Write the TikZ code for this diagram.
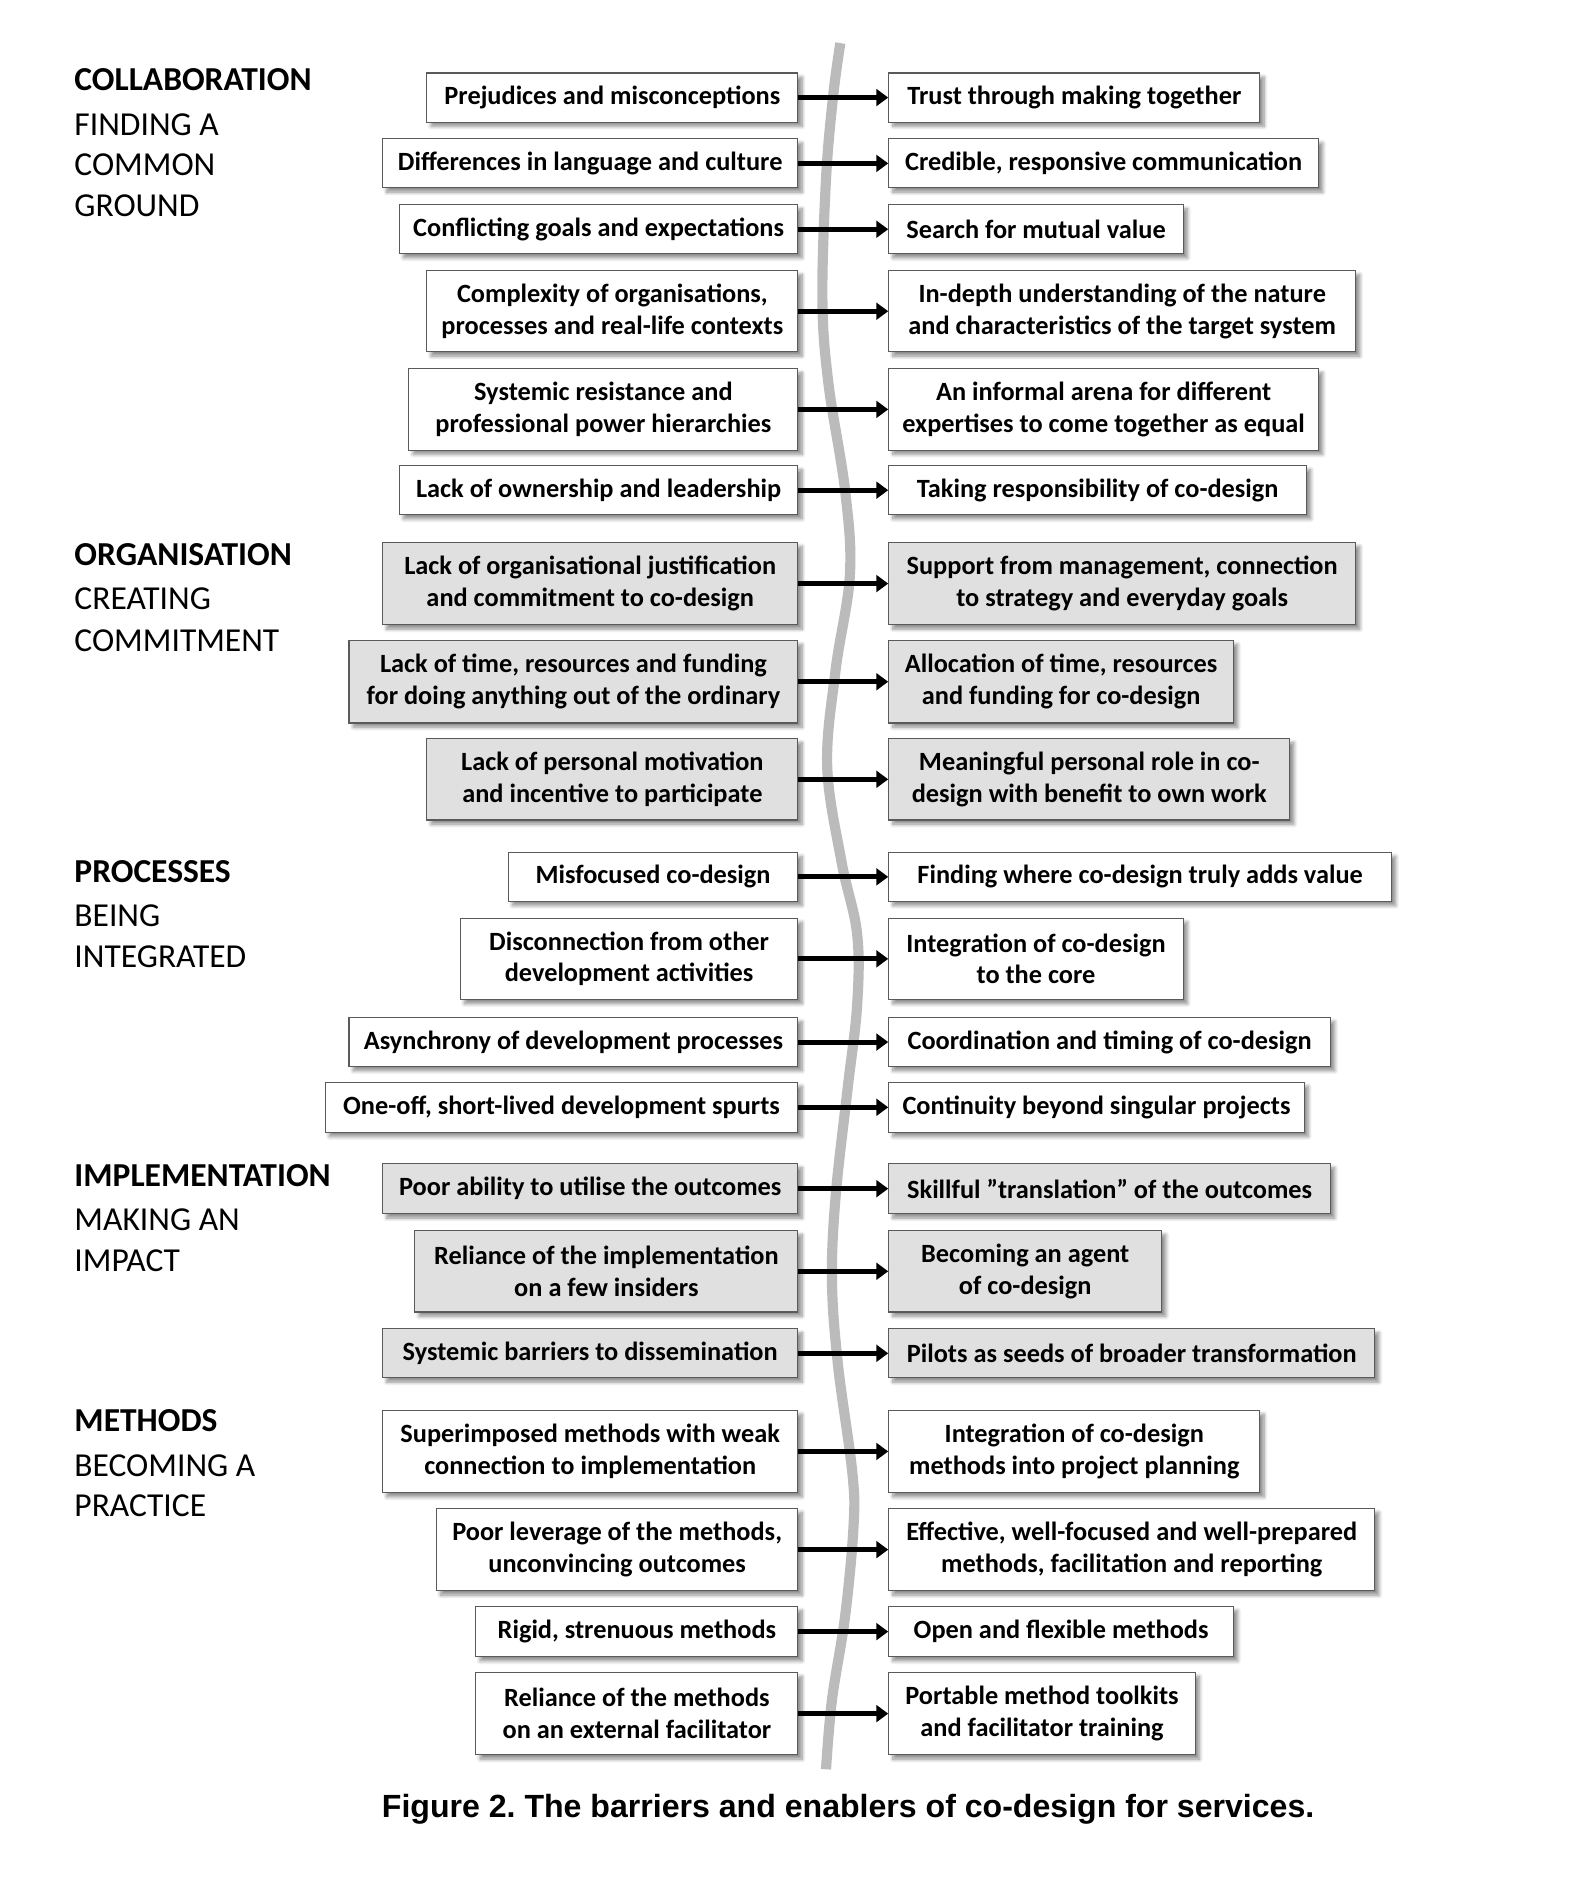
\documentclass[tikz,border=0pt]{standalone}
\usepackage{fontspec}
\setmainfont{Carlito}
\newfontfamily\capfont{Liberation Sans}
\usetikzlibrary{arrows.meta,shadows.blur}
\definecolor{boxgrey}{HTML}{E0E0E0}
\definecolor{linegrey}{HTML}{BBBBBB}
\definecolor{edgegrey}{HTML}{5A5A5A}
\frenchspacing
\tikzset{
  box/.style={draw=edgegrey, line width=0.9pt, align=center, inner xsep=5pt, inner ysep=0pt,
    font=\fontsize{22}{26.5}\selectfont\bfseries, text=black,
    blur shadow={shadow xshift=3.5pt, shadow yshift=-3.5pt, shadow blur steps=8, shadow blur extra rounding=0pt, shadow blur radius=3pt, shadow opacity=45}},
  lbox/.style={box, anchor=east},
  rbox/.style={box, anchor=west},
  wfill/.style={fill=white},
  gfill/.style={fill=boxgrey},
  arr/.style={line width=4.2pt, -{Triangle[length=10pt,width=14pt]}},
  head/.style={anchor=base west, inner sep=0pt, font=\fontsize{28}{34}\selectfont\bfseries},
  sub/.style={anchor=base west, inner sep=0pt, font=\fontsize{28}{34}\selectfont},
  spine/.style={draw=linegrey, line width=8.5pt},
}
% \barrow{id}{y}{h}{fill}{lw}{ltext}{rw}{rtext}
\newcommand{\barrow}[8]{%
  \node[lbox,#4,minimum width=#5pt,minimum height=#3pt] (l#1) at (667,#2) {#6};
  \node[rbox,#4,minimum width=#7pt,minimum height=#3pt] (r#1) at (742,#2) {#8};
}
\begin{document}
\begin{tikzpicture}[x=1pt,y=-1pt]
\useasboundingbox (0,0) rectangle (1316,1568);
% spine
\draw[spine] plot[smooth, tension=0.6] coordinates {
 (702,36) (696,80) (690,150) (687,250) (692,320) (706,410) (710,480) (698,560)
 (691,640) (703,720) (716,780) (716,840) (708,910) (698,1000) (695,1070)
 (700,1140) (712,1230) (713,1275) (706,1350) (695,1420) (690,1478)};
% headings
\node[head] (h1) at (62,76) {COLLABORATION};
\node[sub] (h1a) at (62,113) {FINDING A};
\node[sub] (h1b) at (62,147) {COMMON};
\node[sub] (h1c) at (62,181) {GROUND};
\node[head] (h2) at (62,472) {ORGANISATION};
\node[sub] (h2a) at (62,509) {CREATING};
\node[sub] (h2b) at (62,544) {COMMITMENT};
\node[head] (h3) at (62,737) {PROCESSES};
\node[sub] (h3a) at (62,774) {BEING};
\node[sub] (h3b) at (62,808) {INTEGRATED};
\node[head] (h4) at (62,991) {IMPLEMENTATION};
\node[sub] (h4a) at (62,1028) {MAKING AN};
\node[sub] (h4b) at (62,1062) {IMPACT};
\node[head] (h5) at (62,1196) {METHODS};
\node[sub] (h5a) at (62,1233) {BECOMING A};
\node[sub] (h5b) at (62,1267) {PRACTICE};
% rows
\barrow{1}{81.5}{41}{wfill}{310}{Prejudices and misconceptions}{310}{Trust through making together}
\barrow{2}{136.5}{41}{wfill}{347}{Differences in language and culture}{359}{Credible, responsive communication}
\barrow{3}{191.5}{41}{wfill}{333}{Conflicting goals and expectations}{246}{Search for mutual value}
\barrow{4}{260}{68}{wfill}{310}{Complexity of organisations,\\processes and real-life contexts}{390}{In-depth understanding of the nature\\and characteristics of the target system}
\barrow{5}{342}{68}{wfill}{325}{Systemic resistance and\\professional power hierarchies}{359}{An informal arena for different\\expertises to come together as equal}
\barrow{6}{409.5}{41}{wfill}{333}{Lack of ownership and leadership}{349}{Taking responsibility of co-design}
\barrow{7}{487.5}{69}{gfill}{347}{Lack of organisational justification\\and commitment to co-design}{390}{Support from management, connection\\to strategy and everyday goals}
\barrow{8}{569.5}{69}{gfill}{375}{Lack of time, resources and funding\\for doing anything out of the ordinary}{288}{Allocation of time, resources\\and funding for co-design}
\barrow{9}{651}{68}{gfill}{310}{Lack of personal motivation\\and incentive to participate}{335}{Meaningful personal role in co-\\design with benefit to own work}
\barrow{10}{732.5}{41}{wfill}{242}{Misfocused co-design}{420}{Finding where co-design truly adds value}
\barrow{11}{801}{68}{wfill}{282}{Disconnection from other\\development activities}{246}{Integration of co-design\\to the core}
\barrow{12}{870.5}{41}{wfill}{375}{Asynchrony of development processes}{369}{Coordination and timing of co-design}
\barrow{13}{925}{42}{wfill}{395}{One-off, short-lived development spurts}{347}{Continuity beyond singular projects}
\barrow{14}{993}{42}{gfill}{347}{Poor ability to utilise the outcomes}{369}{Skillful ”translation” of the outcomes}
\barrow{15}{1062}{68}{gfill}{320}{Reliance of the implementation\\on a few insiders}{228}{Becoming an agent\\of co-design}
\barrow{16}{1130.5}{41}{gfill}{347}{Systemic barriers to dissemination}{406}{Pilots as seeds of broader transformation}
\barrow{17}{1212.5}{69}{wfill}{347}{Superimposed methods with weak\\connection to implementation}{310}{Integration of co-design\\methods into project planning}
\barrow{18}{1294.5}{69}{wfill}{302}{Poor leverage of the methods,\\unconvincing outcomes}{406}{Effective, well-focused and well-prepared\\methods, facilitation and reporting}
\barrow{19}{1363}{42}{wfill}{269}{Rigid, strenuous methods}{288}{Open and flexible methods}
\barrow{20}{1431.5}{69}{wfill}{269}{Reliance of the methods\\on an external facilitator}{256}{Portable method toolkits\\and facilitator training}
% arrows
\foreach \i in {1,...,20} { \draw[arr] (l\i.east) -- (r\i.west); }
% caption
\node[inner sep=0pt, font=\capfont\bfseries\fontsize{26.8}{32}\selectfont] (cap) at (708.5,1511) {\frenchspacing Figure 2. The barriers and enablers of co-design for services.};
\end{tikzpicture}
\end{document}
